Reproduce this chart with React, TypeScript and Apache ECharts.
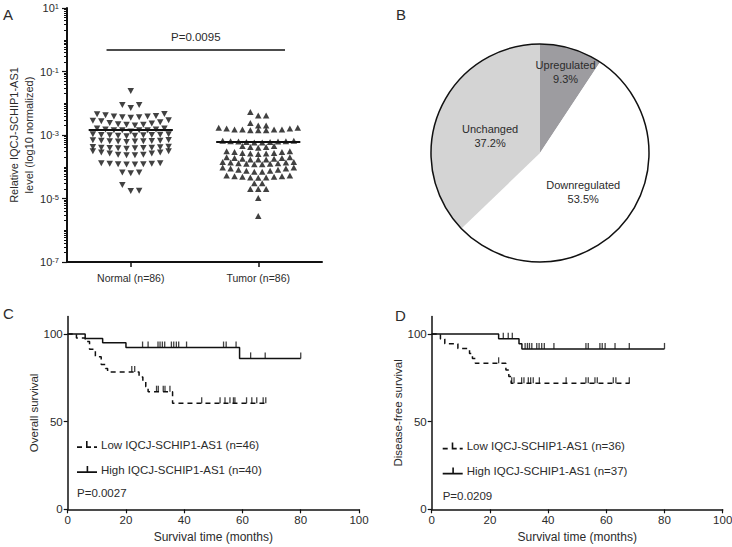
import React, { useEffect, useRef } from 'react';
import * as echarts from 'echarts';

const FONT = '"Liberation Sans", Arial, Helvetica, sans-serif';
const TEXT = '#2b2b2b';
const INK = '#111111';

// ---------------- Panel A: relative expression (log scale) ----------------
const groupLabels = ['Normal (n=86)', 'Tumor (n=86)'];
// each inner list = one horizontal row of the column scatter, left to right
const normalRows: number[][] = [
  [0.0243],
  [0.0088, 0.0071, 0.0088],
  [0.0045, 0.0042, 0.0038, 0.0036, 0.0035, 0.0036, 0.0038, 0.004, 0.0046],
  [0.0028, 0.0027, 0.0024, 0.0022, 0.0021, 0.002, 0.0021, 0.0023, 0.0025, 0.0029],
  [0.0016, 0.0015, 0.0014, 0.0014, 0.0013, 0.0014, 0.0014, 0.0015, 0.0016],
  [0.00105, 0.001, 0.00098, 0.00095, 0.00092, 0.00095, 0.00098, 0.001, 0.00102, 0.00106],
  [0.00068, 0.00066, 0.00063, 0.00062, 0.0006, 0.00062, 0.00063, 0.00065, 0.00066, 0.00069],
  [0.00042, 0.0004, 0.00039, 0.00038, 0.00037, 0.00038, 0.00039, 0.0004, 0.00041, 0.00043],
  [0.00031, 0.00028, 0.00026, 0.00024, 0.00023, 0.00023, 0.00024, 0.00026, 0.00028, 0.00031],
  [0.00013, 0.000125, 0.00012, 0.000118, 0.000118, 0.00012, 0.000125, 0.00013],
  [0.000066, 0.000062, 0.000066],
  [0.0000266, 0.0000172, 0.0000175],
];
const tumorRows: number[][] = [
  [0.0053, 0.0041, 0.0041],
  [0.0024, 0.002, 0.002],
  [0.0017, 0.0016, 0.0015, 0.0015, 0.0014, 0.0014, 0.0014, 0.0015, 0.0015, 0.0016, 0.0017],
  [0.00066, 0.00064, 0.00062, 0.0006, 0.00058, 0.00058, 0.0006, 0.00062, 0.00064, 0.00066],
  [0.00045, 0.00042, 0.0004, 0.00042, 0.00045],
  [0.00031, 0.00029, 0.00027, 0.00026, 0.00025, 0.00026, 0.00027, 0.00029, 0.00031],
  [0.0002, 0.00019, 0.00018, 0.00017, 0.00017, 0.00017, 0.00018, 0.00019, 0.0002],
  [0.00014, 0.000135, 0.00013, 0.000125, 0.00012, 0.00012, 0.000125, 0.00013, 0.000135, 0.00014],
  [0.000095, 0.000088, 0.00008, 0.000075, 0.00007, 0.00007, 0.000075, 0.00008, 0.000088, 0.000095],
  [0.000053, 0.00005, 0.000048, 0.000046, 0.000045, 0.000046, 0.000048, 0.00005, 0.000053],
  [0.00003, 0.00003],
  [0.00002, 0.00002, 0.00002],
  [0.0000104],
  [0.0000028],
];
const normalMean = 0.00146;
const tumorMean = 0.000615;
const aLabelExponents = [-7, -5, -3, -1, 1];
const aPText = 'P=0.0095';
const aPBracketLevel = 0.47;
const aPBracketSpan = [0.31, 1.71];

// ---------------- Panel B: pie ----------------
const pieNames = ['Upregulated', 'Downregulated', 'Unchanged'];
const pieValues = [9.3, 53.5, 37.2];
const pieColors = ['#9d9ca0', '#ffffff', '#d4d4d4'];

// ---------------- Panel C: overall survival ----------------
const cLowName = 'Low IQCJ-SCHIP1-AS1 (n=46)';
const cHighName = 'High IQCJ-SCHIP1-AS1 (n=40)';
const cLowTimes = [0, 3, 6, 7.5, 9.5, 11.5, 13, 13.7, 24.5, 25.8, 26.8, 27.6, 36, 68];
const cLowSurv = [100, 97.8, 95.7, 91.3, 87.0, 82.6, 80.4, 78.3, 75.5, 72.7, 69.9, 67.1, 60.5, 60.5];
const cLowCensor = [22, 23, 30.5, 31.1, 32.8, 33.4, 35.1, 46, 52.3, 54, 55.7, 56.9, 57.4, 61.4, 63.2, 64.9, 67.1, 68];
const cHighTimes = [0, 6, 12, 20, 59, 80];
const cHighSurv = [100, 97.5, 95.0, 92.3, 86.1, 86.1];
const cHighCensor = [25.7, 27.6, 31, 31.7, 32.5, 33.3, 35.6, 36.4, 37.3, 38.1, 40.8, 53.5, 54.4, 57.8, 62.8, 67.8, 80];
const cPText = 'P=0.0027';

// ---------------- Panel D: disease-free survival ----------------
const dLowName = 'Low IQCJ-SCHIP1-AS1 (n=36)';
const dHighName = 'High IQCJ-SCHIP1-AS1 (n=37)';
const dLowTimes = [0, 3, 4.5, 9, 13, 14, 15, 25.5, 26.5, 27.3, 68];
const dLowSurv = [100, 97.2, 94.4, 91.7, 88.9, 86.1, 83.3, 79.5, 75.7, 71.9, 71.9];
const dLowCensor = [23, 27.5, 28.3, 30.9, 31.7, 33.2, 34, 34.9, 37, 46.2, 53, 53.8, 56.1, 56.9, 62.4, 63.3, 67.9];
const dHighTimes = [0, 23, 30, 31, 80];
const dHighSurv = [100, 97.3, 94.4, 91.5, 91.5];
const dHighCensor = [24.6, 26.3, 27.7, 32.1, 32.9, 33.6, 34.4, 36.1, 36.9, 37.8, 38.7, 42, 53, 53.8, 57.8, 58.6, 59.6, 63, 67.9, 80];
const dPText = 'P=0.0209';

const kmYTicks = [0, 50, 100];

// legend glyphs: dashed step with censor tick / solid line with censor tick
const LOW_ICON = 'path://M0,5.2L5,5.2L5,7L0,7ZM9,0L10.6,0L10.6,5.2L14,5.2L14,7L9,7ZM17,5.2L20,5.2L20,7L17,7Z';
const HIGH_ICON = 'path://M0,5.2L20,5.2L20,7L0,7ZM9.6,0L11.2,0L11.2,5.2L9.6,5.2Z';

// ---------------- helpers ----------------
function swarm(rows: number[][], center: number, step: number) {
  const pts: number[][] = [];
  rows.forEach((row) => {
    const n = row.length;
    row.forEach((v, i) => pts.push([center + (i - (n - 1) / 2) * step, v]));
  });
  return pts;
}
function stepData(times: number[], surv: number[]) {
  return times.map((t, i) => [t, surv[i]]);
}
function censorData(times: number[], surv: number[], cens: number[]) {
  return cens.map((c) => {
    let s = surv[0];
    for (let i = 0; i < times.length; i++) if (times[i] <= c) s = surv[i];
    return [c, s];
  });
}

const aMinorTicks: number[] = [];
for (let e = -7; e < 1; e++) {
  for (let k = 1; k <= 9; k++) {
    if (k === 1 && aLabelExponents.includes(e)) continue;
    aMinorTicks.push(e + Math.log10(k));
  }
}

const txt = (size: number) => ({ color: TEXT, fontSize: size, fontFamily: FONT });

function kmXAxis(gridIndex: number) {
  return {
    type: 'value', gridIndex, position: 'bottom', min: 0, max: 100, interval: 20,
    axisLine: { show: true, onZero: false, lineStyle: { color: INK, width: 1.5 } },
    axisTick: { show: true, length: 4, lineStyle: { color: INK, width: 1.2 } },
    axisLabel: { ...txt(11.5), margin: 5 },
    splitLine: { show: false },
    name: 'Survival time (months)', nameLocation: 'middle', nameGap: 22,
    nameTextStyle: txt(12),
  };
}
function kmYAxis(gridIndex: number, name: string) {
  return {
    type: 'value', gridIndex, position: 'left', min: 0, max: 110,
    axisLine: { show: true, onZero: false, lineStyle: { color: INK, width: 1.5 } },
    axisTick: { show: true, length: 4, customValues: kmYTicks, lineStyle: { color: INK, width: 1.2 } },
    axisLabel: { ...txt(11.5), margin: 5, customValues: kmYTicks },
    splitLine: { show: false },
    name, nameLocation: 'middle', nameGap: 28, nameTextStyle: txt(11.5),
  };
}
function kmSeries(name: string, xi: number, yi: number, times: number[], surv: number[], cens: number[], dashed: boolean) {
  return [
    {
      type: 'line', name, xAxisIndex: xi, yAxisIndex: yi, data: stepData(times, surv), step: 'end',
      symbol: 'none', silent: true, z: 3,
      lineStyle: { color: INK, width: 1.5, type: dashed ? [5, 4] : 'solid' },
      itemStyle: { color: INK },
    },
    {
      type: 'scatter', name: name + ' censored', xAxisIndex: xi, yAxisIndex: yi,
      data: censorData(times, surv, cens), symbol: 'rect', symbolSize: [1.3, 6], symbolOffset: [0, -3],
      itemStyle: { color: INK }, silent: true, z: 3,
    },
  ];
}

function kmLegend(lowName: string, highName: string, left: number, top: number) {
  return {
    data: [
      { name: lowName, icon: LOW_ICON },
      { name: highName, icon: HIGH_ICON },
    ],
    orient: 'vertical', left, top, padding: 0,
    itemWidth: 20, itemHeight: 7, itemGap: 13, selectedMode: false,
    itemStyle: { color: INK, borderWidth: 0 },
    lineStyle: { width: 0 },
    textStyle: { ...txt(11.5), padding: [0, 0, 0, -1] },
  };
}

const pieLabelShift = [{ dx: 9, dy: -26 }, { dx: -1, dy: 2 }, { dx: 3, dy: 6 }];

function buildOption() {
  const halfMean = 0.33;
  return {
    animation: false,
    textStyle: { fontFamily: FONT },
    grid: [
      { left: 67, top: 8, width: 255, height: 254, containLabel: false, outerBoundsMode: 'none' },
      { left: 67.7, top: 316.5, width: 291.3, height: 192.8, containLabel: false, outerBoundsMode: 'none' },
      { left: 431.7, top: 316.5, width: 291, height: 192.8, containLabel: false, outerBoundsMode: 'none' },
    ],
    xAxis: [
      {
        type: 'category', gridIndex: 0, position: 'bottom', data: groupLabels,
        axisLine: { show: true, onZero: false, lineStyle: { color: INK, width: 2 } },
        axisTick: { show: true, alignWithLabel: true, length: 5, lineStyle: { color: INK, width: 1.5 } },
        axisLabel: { ...txt(10.5), margin: 10 },
        splitLine: { show: false },
      },
      { type: 'value', gridIndex: 0, position: 'bottom', min: 0, max: 2, show: false },
      kmXAxis(1),
      kmXAxis(2),
    ],
    yAxis: [
      {
        type: 'log', logBase: 10, gridIndex: 0, position: 'left', min: 1e-7, max: 10,
        axisLine: { show: true, onZero: false, lineStyle: { color: INK, width: 2 } },
        axisTick: { show: false }, axisLabel: { show: false }, splitLine: { show: false },
        name: 'Relative IQCJ-SCHIP1-AS1\nlevel (log10 normalized)', nameLocation: 'middle', nameGap: 31,
        nameTextStyle: { ...txt(11), lineHeight: 15 },
      },
      {
        type: 'value', gridIndex: 0, position: 'left', min: -7, max: 1,
        axisLine: { show: false, onZero: false },
        axisTick: { show: true, length: 5, customValues: aLabelExponents, lineStyle: { color: INK, width: 1.2 } },
        axisLabel: {
          show: true, margin: 8, customValues: aLabelExponents,
          formatter: (v: number) => `{b|10}{s|${Math.round(v)}}`,
          rich: {
            b: { ...txt(11) },
            s: { ...txt(7.5), verticalAlign: 'top' },
          },
        },
        splitLine: { show: false },
      },
      {
        type: 'value', gridIndex: 0, position: 'left', min: -7, max: 1,
        axisLine: { show: false, onZero: false },
        axisTick: { show: true, length: 3, customValues: aMinorTicks, lineStyle: { color: INK, width: 1 } },
        axisLabel: { show: false }, splitLine: { show: false },
      },
      kmYAxis(1, 'Overall survival'),
      kmYAxis(2, 'Disease-free survival'),
    ],
    legend: [
      kmLegend(cLowName, cHighName, 77, 438.5),
      kmLegend(dLowName, dHighName, 442.7, 440),
    ],
    graphic: [
      { type: 'text', x: 3, y: 14, style: { text: 'A', fontSize: 15, fontFamily: FONT, fill: TEXT, verticalAlign: 'middle' } },
      { type: 'text', x: 396, y: 14, style: { text: 'B', fontSize: 15, fontFamily: FONT, fill: TEXT, verticalAlign: 'middle' } },
      { type: 'text', x: 3, y: 313, style: { text: 'C', fontSize: 15, fontFamily: FONT, fill: TEXT, verticalAlign: 'middle' } },
      { type: 'text', x: 395, y: 315, style: { text: 'D', fontSize: 15, fontFamily: FONT, fill: TEXT, verticalAlign: 'middle' } },
      { type: 'text', x: 77, y: 493, style: { text: cPText, fontSize: 11.5, fontFamily: FONT, fill: TEXT, verticalAlign: 'middle' } },
      { type: 'text', x: 442.7, y: 496, style: { text: dPText, fontSize: 11.5, fontFamily: FONT, fill: TEXT, verticalAlign: 'middle' } },
    ],
    series: [
      {
        type: 'scatter', name: 'Normal', xAxisIndex: 1, yAxisIndex: 0,
        data: swarm(normalRows, 0.5, 0.066),
        symbol: 'triangle', symbolRotate: 180, symbolSize: [6.5, 6],
        itemStyle: { color: INK }, silent: true,
        markLine: {
          silent: true, symbol: ['none', 'none'], label: { show: false },
          lineStyle: { color: INK, width: 2, type: 'solid' },
          emphasis: { disabled: true },
          data: [
            [{ coord: [0.5 - halfMean, normalMean] }, { coord: [0.5 + halfMean, normalMean] }],
            [
              {
                coord: [aPBracketSpan[0], aPBracketLevel],
                lineStyle: { width: 1.5 },
                label: { show: true, position: 'middle', formatter: aPText, distance: 7, ...txt(11.5) },
              },
              { coord: [aPBracketSpan[1], aPBracketLevel] },
            ],
          ],
        },
      },
      {
        type: 'scatter', name: 'Tumor', xAxisIndex: 1, yAxisIndex: 0,
        data: swarm(tumorRows, 1.5, 0.062),
        symbol: 'triangle', symbolSize: [6.5, 6],
        itemStyle: { color: INK }, silent: true,
        markLine: {
          silent: true, symbol: ['none', 'none'], label: { show: false },
          lineStyle: { color: INK, width: 2, type: 'solid' },
          emphasis: { disabled: true },
          data: [[{ coord: [1.5 - halfMean, tumorMean] }, { coord: [1.5 + halfMean, tumorMean] }]],
        },
      },
      {
        type: 'pie', center: [540, 153], radius: 109, startAngle: 90, clockwise: true,
        silent: true, avoidLabelOverlap: false,
        data: pieNames.map((n, i) => ({ name: n, value: pieValues[i], itemStyle: { color: pieColors[i] } })),
        label: { show: true, position: 'inside', formatter: '{b}\n{c}%', ...txt(11), lineHeight: 14 },
        labelLine: { show: false },
        labelLayout: (p: any) => pieLabelShift[p.dataIndex],
        emphasis: { disabled: true },
      },
      {
        type: 'pie', center: [540, 153], radius: 109, silent: true, z: 5,
        data: [{ name: 'outline', value: 1 }],
        itemStyle: { color: 'rgba(0,0,0,0)', borderColor: INK, borderWidth: 1.5 },
        label: { show: false }, labelLine: { show: false },
        emphasis: { disabled: true },
      },
      ...kmSeries(cLowName, 2, 3, cLowTimes, cLowSurv, cLowCensor, true),
      ...kmSeries(cHighName, 2, 3, cHighTimes, cHighSurv, cHighCensor, false),
      ...kmSeries(dLowName, 3, 4, dLowTimes, dLowSurv, dLowCensor, true),
      ...kmSeries(dHighName, 3, 4, dHighTimes, dHighSurv, dHighCensor, false),
    ],
  };
}

export default function App() {
  const ref = useRef<HTMLDivElement>(null);
  useEffect(() => {
    if (!ref.current) return;
    const chart = echarts.init(ref.current, undefined, { renderer: 'svg' });
    chart.setOption(buildOption() as any);
    return () => chart.dispose();
  }, []);
  return (
    <div
      ref={ref}
      style={{ position: 'absolute', left: 0, top: 0, width: 732, height: 547, background: '#ffffff' }}
    />
  );
}
